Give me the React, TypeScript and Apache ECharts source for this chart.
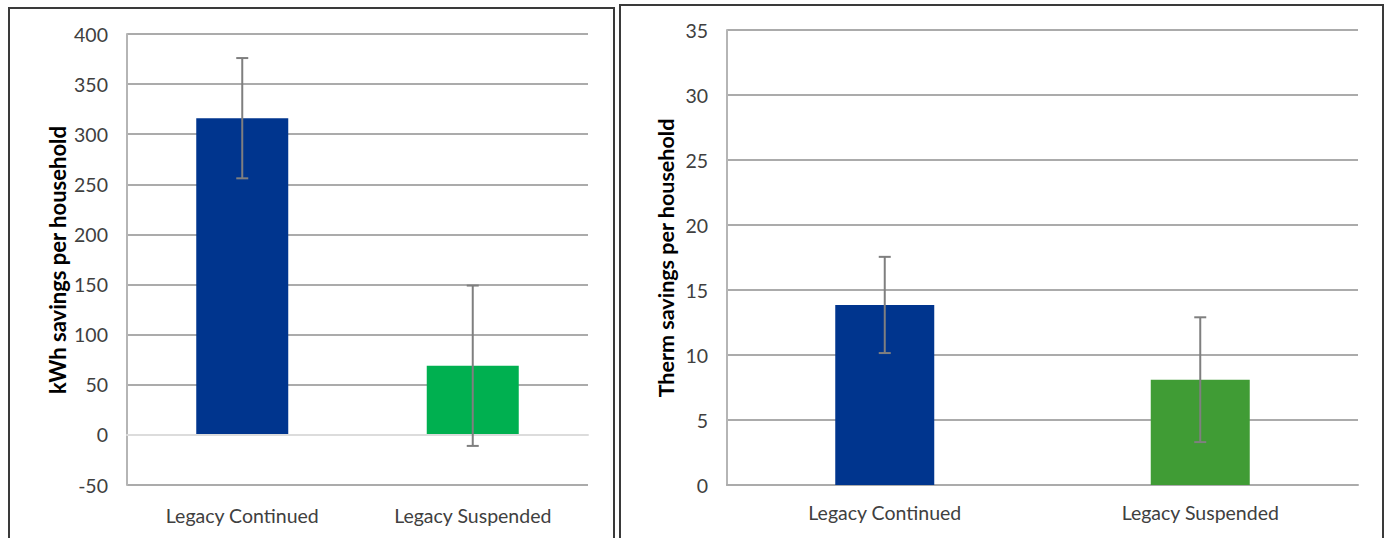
import React, { useEffect, useRef } from "react";
import * as echarts from "echarts";

const categories = ["Legacy Continued", "Legacy Suspended"];
const kwhValues = [316, 69];
const kwhErrors = [60, 80];
const thermValues = [13.85, 8.1];
const thermErrors = [3.7, 4.8];
const kwhTicks = { min: -50, max: 400, interval: 50 };
const thermTicks = { min: 0, max: 35, interval: 5 };

const FONT = "Lato";

function errData(values: number[], errs: number[]) {
  return values.map((v, i) => [i, v - errs[i], v + errs[i]]);
}

function errRender(params: any, api: any) {
  const i = api.value(0);
  const lo = api.coord([i, api.value(1)]);
  const hi = api.coord([i, api.value(2)]);
  const cap = 6;
  const style = { stroke: "#7f7f7f", lineWidth: 2 };
  return {
    type: "group",
    children: [
      { type: "line", shape: { x1: hi[0], y1: hi[1], x2: lo[0], y2: lo[1] }, style },
      { type: "line", shape: { x1: hi[0] - cap, y1: hi[1], x2: hi[0] + cap, y2: hi[1] }, style },
      { type: "line", shape: { x1: lo[0] - cap, y1: lo[1], x2: lo[0] + cap, y2: lo[1] }, style },
    ],
  };
}

export default function App() {
  const ref = useRef<HTMLDivElement>(null);
  useEffect(() => {
    if (!ref.current) return;
    const chart = echarts.init(ref.current, null, { renderer: "svg" });
    const axisLabel = { fontFamily: FONT, fontSize: 19.5, color: "#404040" };
    chart.setOption({
      animation: false,
      backgroundColor: "#ffffff",
      grid: [
        { left: 127, top: 34, width: 461, height: 451 },
        { left: 727, top: 30, width: 631, height: 455 },
      ],
      xAxis: [
        {
          type: "category",
          gridIndex: 0,
          data: categories,
          axisTick: { show: false },
          axisLine: { onZero: true, lineStyle: { color: "#dcdcdc", width: 2 } },
          axisLabel: { ...axisLabel, margin: 20, interval: 0 },
          z: 3,
        },
        {
          type: "category",
          gridIndex: 1,
          data: categories,
          axisTick: { show: false },
          axisLine: { lineStyle: { color: "#ababab", width: 2 } },
          axisLabel: { ...axisLabel, margin: 17, interval: 0 },
        },
      ],
      yAxis: [
        {
          type: "value",
          gridIndex: 0,
          ...kwhTicks,
          axisLine: { show: true, lineStyle: { color: "#b5b5b5", width: 2 } },
          axisTick: { show: false },
          splitLine: { lineStyle: { color: "#ababab", width: 2 } },
          axisLabel: { ...axisLabel, margin: 19 },
        },
        {
          type: "value",
          gridIndex: 1,
          ...thermTicks,
          axisLine: { show: true, lineStyle: { color: "#b5b5b5", width: 2 } },
          axisTick: { show: false },
          splitLine: { lineStyle: { color: "#ababab", width: 2 } },
          axisLabel: { ...axisLabel, margin: 19 },
        },
      ],
      series: [
        {
          type: "bar",
          xAxisIndex: 0,
          yAxisIndex: 0,
          barWidth: 92,
          data: kwhValues.map((v, i) => ({
            value: v,
            itemStyle: { color: i === 0 ? "#00358e" : "#00b050" },
          })),
          z: 2,
        },
        {
          type: "custom",
          xAxisIndex: 0,
          yAxisIndex: 0,
          renderItem: errRender,
          data: errData(kwhValues, kwhErrors),
          encode: { x: 0, y: [1, 2] },
          z: 5,
        },
        {
          type: "bar",
          xAxisIndex: 1,
          yAxisIndex: 1,
          barWidth: 99,
          data: thermValues.map((v, i) => ({
            value: v,
            itemStyle: { color: i === 0 ? "#00358e" : "#409c35" },
          })),
          z: 2,
        },
        {
          type: "custom",
          xAxisIndex: 1,
          yAxisIndex: 1,
          renderItem: errRender,
          data: errData(thermValues, thermErrors),
          encode: { x: 0, y: [1, 2] },
          z: 5,
        },
      ],
      graphic: [
        {
          type: "rect",
          shape: { x: 9, y: 8, width: 605, height: 545 },
          style: { fill: "none", stroke: "#3a3a3a", lineWidth: 2 },
          z: 10,
        },
        {
          type: "rect",
          shape: { x: 620, y: 5, width: 763, height: 545 },
          style: { fill: "none", stroke: "#3a3a3a", lineWidth: 2 },
          z: 10,
        },
        {
          type: "text",
          x: 57,
          y: 260,
          rotation: Math.PI / 2,
          style: {
            text: "kWh savings per household",
            fontFamily: FONT,
            fontSize: 22,
            fontWeight: "bold",
            fill: "#000000",
            align: "center",
            verticalAlign: "middle",
          },
        },
        {
          type: "text",
          x: 666,
          y: 258,
          rotation: Math.PI / 2,
          style: {
            text: "Therm savings per household",
            fontFamily: FONT,
            fontSize: 21.5,
            fontWeight: "bold",
            fill: "#000000",
            align: "center",
            verticalAlign: "middle",
          },
        },
      ],
    });
    return () => chart.dispose();
  }, []);
  return (
    <div
      ref={ref}
      style={{ position: "fixed", left: 0, top: 0, width: 1386, height: 538 }}
    />
  );
}
